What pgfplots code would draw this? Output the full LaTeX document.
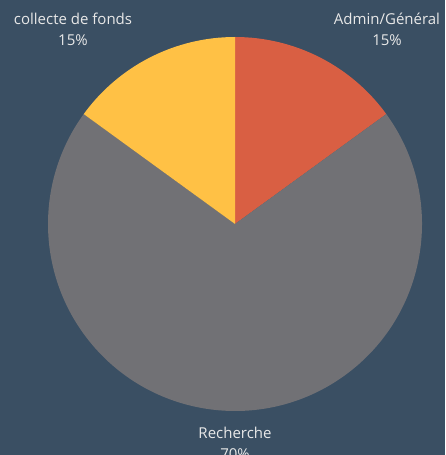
\documentclass[border=0pt]{standalone}
\usepackage{pgfplots}
\pgfplotsset{compat=1.18}
\usepackage{fontspec}
\setmainfont{Open Sans}

\definecolor{bgcol}{HTML}{3A4F63}
\definecolor{admincol}{HTML}{D95F43}
\definecolor{rechcol}{HTML}{717175}
\definecolor{collcol}{HTML}{FFC145}
\definecolor{txtcol}{HTML}{E8E8E8}

% shares in percent, drawn clockwise from 12 o'clock
\def\admin{15}
\def\rech{70}
\def\coll{15}
\def\cx{235}
\def\cy{231}
\def\rad{187}

\begin{document}
\begin{tikzpicture}
\pgfmathsetmacro{\aA}{90}
\pgfmathsetmacro{\aB}{90-3.6*\admin}
\pgfmathsetmacro{\aC}{\aB-3.6*\rech}
\pgfmathsetmacro{\aD}{\aC-3.6*\coll}
\begin{axis}[
    hide axis,
    scale only axis,
    width=445pt, height=455pt,
    xmin=0, xmax=445, ymin=0, ymax=455,
    axis background/.style={fill=bgcol},
    clip=true,
]
\fill[admincol] (axis cs:\cx,\cy) -- ++(\aA:\rad pt) arc[start angle=\aA, end angle=\aB, radius=\rad pt] -- cycle;
\fill[rechcol] (axis cs:\cx,\cy) -- ++(\aB:\rad pt) arc[start angle=\aB, end angle=\aC, radius=\rad pt] -- cycle;
\fill[collcol] (axis cs:\cx,\cy) -- ++(\aC:\rad pt) arc[start angle=\aC, end angle=\aD, radius=\rad pt] -- cycle;
\begin{scope}[every node/.style={text=txtcol, font=\fontsize{15}{21}\selectfont, align=center}]
\node at (axis cs:73,425.5) {collecte de fonds\\15\%};
\node at (axis cs:387,425.5) {Admin/Général\\15\%};
\node at (axis cs:235,12) {Recherche\\70\%};
\end{scope}
\end{axis}
\pgfresetboundingbox
\path (current axis.south west) rectangle (current axis.north east);
\end{tikzpicture}
\end{document}
